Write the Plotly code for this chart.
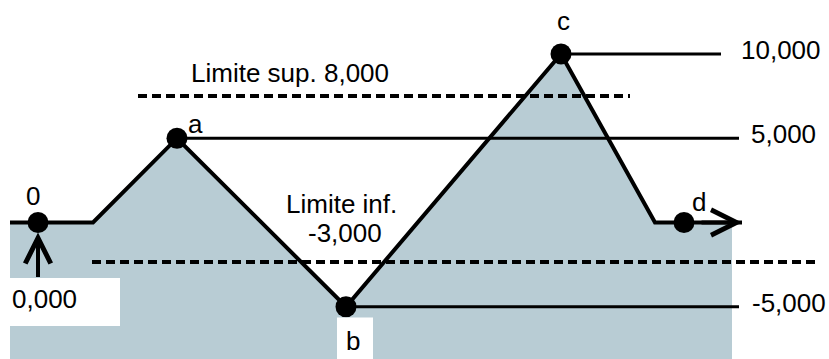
import plotly.graph_objects as go

# price path (x: time position, y: level in thousands)
PATH_X = [10, 93, 177, 346, 561, 655, 742]
PATH_Y = [0, 0, 5, -5, 10, 0, 0]
FILL_RIGHT = 732

# labelled points
POINT_NAMES = ["0", "a", "b", "c", "d"]
POINT_X = [38, 177, 346, 561, 684]
POINT_Y = [0, 5, -5, 10, 0]

# level lines drawn from each point out to their value label
LEVEL_VALUES = [10, 5, -5]
LEVEL_START = [561, 177, 346]
LEVEL_END = [721, 739, 739]
LEVEL_TEXT = ["10,000", "5,000", "-5,000"]

# limits (as drawn on the sketch)
LIMIT_SUP_TEXT = "Limite sup. 8,000"
LIMIT_INF_TEXT = ["Limite inf.", "-3,000"]
LIMIT_DRAWN = [7.51, -2.34]
LIMIT_START = [138, 92]
LIMIT_END = [630, 819]

Y_RANGE = [-8.10, 13.20]
X_RANGE = [0, 829]

FILL = "#b8ccd4"
FONT = dict(family="Liberation Sans, Arial, sans-serif", size=26, color="#000000")

fig = go.Figure()

# shaded area under the path, down to the bottom of the frame
fill_x = PATH_X[:-1] + [FILL_RIGHT, FILL_RIGHT, PATH_X[0]]
fill_y = PATH_Y[:-1] + [PATH_Y[-1], Y_RANGE[0], Y_RANGE[0]]
fig.add_trace(go.Scatter(
    x=fill_x, y=fill_y, mode="lines", fill="toself",
    fillcolor=FILL, line=dict(width=0), hoverinfo="skip",
))

for value, x0, x1 in zip(LEVEL_VALUES, LEVEL_START, LEVEL_END):
    fig.add_trace(go.Scatter(
        x=[x0, x1], y=[value, value], mode="lines",
        line=dict(color="#000000", width=3), hoverinfo="skip",
    ))

for value, x0, x1 in zip(LIMIT_DRAWN, LIMIT_START, LIMIT_END):
    fig.add_trace(go.Scatter(
        x=[x0, x1], y=[value, value], mode="lines",
        line=dict(color="#000000", width=4, dash="9px,5px"), hoverinfo="skip",
    ))

fig.add_trace(go.Scatter(
    x=PATH_X, y=PATH_Y, mode="lines",
    line=dict(color="#000000", width=4), hoverinfo="skip",
))

fig.add_trace(go.Scatter(
    x=POINT_X, y=POINT_Y, mode="markers",
    marker=dict(color="#000000", size=21), hoverinfo="skip",
))

# white patches behind the "0,000" and "b" labels
fig.add_shape(type="rect", x0=8, x1=120, y0=-6.14, y1=-3.3,
              fillcolor="#ffffff", line=dict(width=0))
fig.add_shape(type="rect", x0=337, x1=373, y0=Y_RANGE[0], y1=-5.64,
              fillcolor="#ffffff", line=dict(width=0))

# arrows: start marker and the continuing path
fig.add_annotation(
    x=POINT_X[0], y=0, ax=POINT_X[0], ay=-3.32, xref="x", yref="y",
    axref="x", ayref="y", text="", showarrow=True, arrowhead=5,
    arrowwidth=4, arrowsize=1.25, standoff=10, arrowcolor="#000000",
)
fig.add_annotation(
    x=PATH_X[-1], y=PATH_Y[-1], ax=700, ay=PATH_Y[-1], xref="x", yref="y",
    axref="x", ayref="y", text="", showarrow=True, arrowhead=5,
    arrowwidth=4, arrowsize=1.25, standoff=0, arrowcolor="#000000",
)

# point names
name_offsets = {"0": (-5, 1.55), "a": (18, 0.85), "b": (7, -2.05), "c": (2, 1.95), "d": (15, 1.2)}
for name, x, y in zip(POINT_NAMES, POINT_X, POINT_Y):
    dx, dy = name_offsets[name]
    fig.add_annotation(x=x + dx, y=y + dy, text=name, showarrow=False,
                       font=FONT, xanchor="center", yanchor="middle")

fig.add_annotation(x=44, y=-4.55, text="0,000", showarrow=False,
                   font=FONT, xanchor="center", yanchor="middle")

for value, text, x in zip(LEVEL_VALUES, LEVEL_TEXT, [781, 783, 789]):
    fig.add_annotation(x=x, y=value + 0.25, text=text, showarrow=False,
                       font=FONT, xanchor="center", yanchor="middle")

fig.add_annotation(x=290, y=8.85, text=LIMIT_SUP_TEXT, showarrow=False,
                   font=FONT, xanchor="center", yanchor="middle")
fig.add_annotation(x=341, y=1.1, text=LIMIT_INF_TEXT[0], showarrow=False,
                   font=FONT, xanchor="center", yanchor="middle")
fig.add_annotation(x=345, y=-0.6, text=LIMIT_INF_TEXT[1], showarrow=False,
                   font=FONT, xanchor="center", yanchor="middle")

fig.update_layout(
    width=829, height=359,
    margin=dict(l=0, r=0, t=0, b=0),
    paper_bgcolor="#ffffff", plot_bgcolor="#ffffff",
    showlegend=False,
    xaxis=dict(range=X_RANGE, visible=False, fixedrange=True),
    yaxis=dict(range=Y_RANGE, visible=False, fixedrange=True),
)

fig.write_html(
    "out.html",
    config={"displayModeBar": False},
    post_script="document.body.style.margin = '0';",
)
